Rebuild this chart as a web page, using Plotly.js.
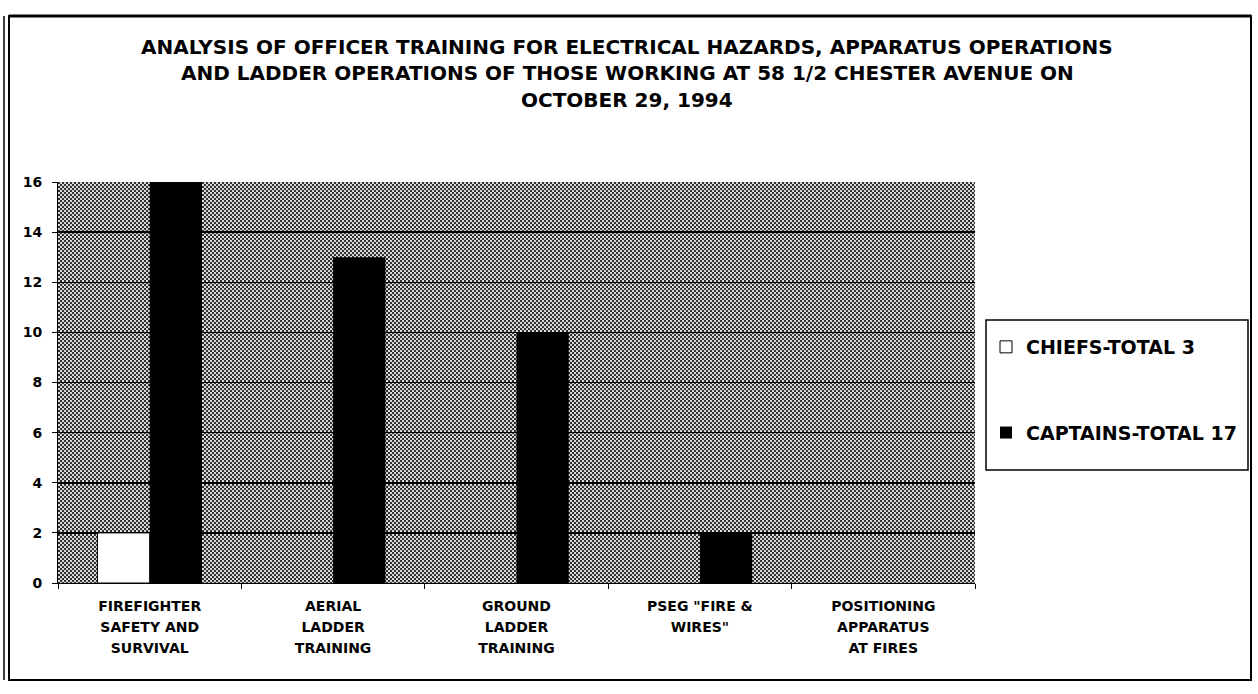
<!DOCTYPE html>
<html><head><meta charset="utf-8">
<script src="https://cdn.plot.ly/plotly-3.0.1.min.js"></script>
<style>html,body{margin:0;padding:0;background:#fff;}#chart{width:1258px;height:694px;}</style>
</head><body><div id="chart"></div>
<script>
var categories = ['FIREFIGHTER<br>SAFETY AND<br>SURVIVAL', 'AERIAL<br>LADDER<br>TRAINING', 'GROUND<br>LADDER<br>TRAINING', 'PSEG "FIRE &amp;<br>WIRES"', 'POSITIONING<br>APPARATUS<br>AT FIRES'];
var chiefs = [2, 0, 0, 0, 0];
var captains = [16, 13, 10, 2, 0];
var seriesNames = ['CHIEFS-TOTAL 3', 'CAPTAINS-TOTAL 17'];
var titleLines = ['ANALYSIS OF OFFICER TRAINING FOR ELECTRICAL HAZARDS, APPARATUS OPERATIONS',
  'AND LADDER OPERATIONS OF THOSE WORKING AT 58 1/2 CHESTER AVENUE ON',
  'OCTOBER 29, 1994'];
var yTicks = [0, 2, 4, 6, 8, 10, 12, 14, 16];

var L = 58, R = 975, T = 182, B = 583, W = 1258, H = 694;
function px(x){ return (x - L) / (R - L); }
function py(y){ return (B - y) / (B - T); }

var tickText = categories.map(function(c){
  return c.split('<br>').map(function(s){ return '<span style="font-size:14px">' + s + '</span>'; }).join('<br>');
});

var traces = [
  {type:'bar', name:'<b>'+seriesNames[0]+'</b>', x:categories, y:chiefs, legendgroup:'a',
   marker:{color:'#ffffff', line:{color:'#000', width:chiefs.map(function(v){ return v > 0 ? 1 : 0; })}}},
  {type:'bar', name:'<b>'+seriesNames[1]+'</b>', x:categories, y:captains, legendgroup:'b',
   marker:{color:'#000000', line:{color:'#000', width:0}}}
];

var dv = 'DejaVu Sans, Liberation Sans, sans-serif';
var annotations = titleLines.map(function(t, i){
  return {text:'<b>'+t+'</b>', xref:'paper', yref:'paper', x:px(627), y:py(47 + i*26.5),
    xanchor:'center', yanchor:'middle', showarrow:false,
    font:{family:dv, size:20, color:'#000'}};
});

var shapes = [
  {type:'rect', xref:'paper', yref:'paper', x0:px(9), x1:px(1251), y0:py(16), y1:py(680), line:{color:'#000', width:2}},
  {type:'line', xref:'paper', yref:'paper', x0:px(4), x1:px(4), y0:py(16), y1:py(680), line:{color:'#000', width:1.5}},
  {type:'line', xref:'paper', yref:'paper', x0:px(9), x1:px(1251), y0:py(16), y1:py(16), line:{color:'#000', width:3}},
  // legend frame
  {type:'rect', xref:'paper', yref:'paper', layer:'below', x0:px(986), x1:px(1248), y0:py(320), y1:py(470),
   line:{color:'#000', width:1.5}, fillcolor:'#fff'}
];

var layout = {
  width:W, height:H,
  margin:{l:L, r:W-R, t:T, b:H-B, pad:0},
  paper_bgcolor:'#fff', plot_bgcolor:'#a0a0a0',
  barmode:'group', bargap:0.43, bargroupgap:0,
  showlegend:true,
  legend:{x:px(986), y:py(328), xanchor:'left', yanchor:'top', bgcolor:'rgba(0,0,0,0)',
    borderwidth:0, tracegroupgap:58,
    font:{family:dv, size:19, color:'#000'}, itemwidth:30},
  xaxis:{type:'category', tickmode:'array', tickvals:categories, ticktext:tickText,
    showline:true, linecolor:'#000', linewidth:1, ticks:'outside', tickson:'boundaries',
    ticklen:5, tickcolor:'#000', showgrid:false, zeroline:false, ticklabelstandoff:8,
    tickfont:{family:dv, size:16, color:'#000', weight:'bold'}},
  yaxis:{range:[0,16], tickvals:yTicks, showline:true, linecolor:'#000', linewidth:1, ticks:'outside',
    ticklen:5, tickcolor:'#000', showgrid:true, gridcolor:'#000', gridwidth:1.5, zeroline:false,
    ticklabelstandoff:7,
    tickfont:{family:dv, size:14, color:'#000', weight:'bold'}},
  annotations:annotations, shapes:shapes,
  font:{family:dv, color:'#000'}
};

Plotly.newPlot('chart', traces, layout, {displayModeBar:false, staticPlot:true}).then(function(gd){
  // checkered halftone fill for the plot background
  var svg = gd.querySelector('svg.main-svg');
  var ns = 'http://www.w3.org/2000/svg';
  var defs = svg.querySelector('defs') || svg.insertBefore(document.createElementNS(ns, 'defs'), svg.firstChild);
  var pat = document.createElementNS(ns, 'pattern');
  pat.setAttribute('id', 'checker'); pat.setAttribute('width', '4'); pat.setAttribute('height', '4');
  pat.setAttribute('patternUnits', 'userSpaceOnUse');
  pat.innerHTML = '<rect width="4" height="4" fill="#d8d8d8"/><rect width="2" height="2" fill="#303030"/><rect x="2" y="2" width="2" height="2" fill="#303030"/>';
  defs.appendChild(pat);
  var bg = svg.querySelector('.bglayer rect.bg');
  if (bg) bg.style.fill = 'url(#checker)';
});
</script></body></html>
